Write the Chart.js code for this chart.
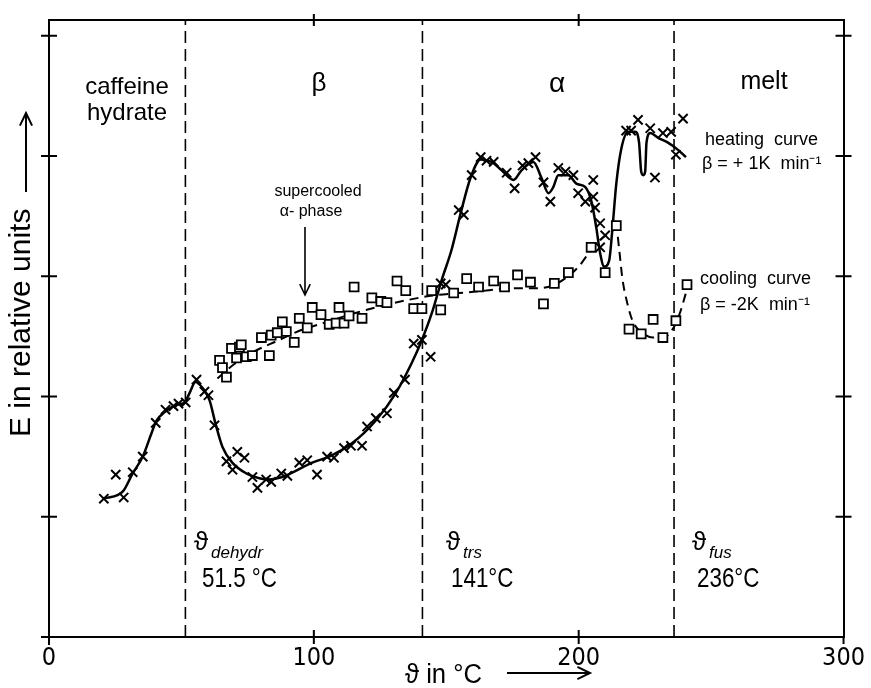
<!DOCTYPE html>
<html>
<head>
<meta charset="utf-8">
<script src="https://cdn.jsdelivr.net/npm/chart.js@4"></script>
<style>
  html, body { margin: 0; padding: 0; background: #fff; }
</style>
</head>
<body>
<canvas id="chart" width="871" height="688"></canvas>
<script>
// heating run, beta = +1 K/min (crosses)
const heatX = [20.7, 25.2, 28.2, 31.6, 35.4, 40.3, 44.0, 47.0, 48.9, 51.6, 55.7, 58.7, 60.2, 62.5, 67.0, 69.3, 71.1, 73.8, 76.8, 78.7,
  82.0, 83.9, 87.7, 90.0, 94.5, 97.5, 101.2, 105.0, 107.6, 111.4, 114.0, 118.2, 120.1, 123.4, 127.6, 130.2, 134.4, 137.7, 140.8, 144.1,
  147.9, 149.8, 154.7, 156.6, 159.6, 163.0, 165.2, 167.9, 172.8, 175.8, 178.8, 181.0, 183.7, 186.7, 189.3, 192.3, 195.0, 198.0, 199.8, 202.5,
  205.5, 205.5, 206.2, 208.1, 210.0, 208.1, 217.9, 219.8, 222.4, 227.0, 228.8, 231.8, 234.9, 236.7, 239.4];
const heatY = [1.15, 1.35, 1.16, 1.37, 1.50, 1.78, 1.89, 1.92, 1.94, 1.95, 2.14, 2.04, 2.01, 1.76, 1.46, 1.39, 1.54, 1.49, 1.33, 1.24,
  1.31, 1.29, 1.36, 1.34, 1.45, 1.47, 1.35, 1.50, 1.49, 1.57, 1.59, 1.59, 1.75, 1.82, 1.86, 2.03, 2.14, 2.44, 2.47, 2.33,
  2.94, 2.93, 3.55, 3.51, 3.84, 3.99, 3.96, 3.95, 3.86, 3.73, 3.92, 3.94, 3.99, 3.78, 3.62, 3.90, 3.87, 3.84, 3.69, 3.62,
  3.80, 3.66, 3.57, 3.44, 3.34, 3.24, 4.21, 4.21, 4.30, 4.23, 3.82, 4.19, 4.20, 4.01, 4.31];

// hand drawn curve through the heating run
const heatCurveX = [20.7, 27.9, 31.6, 35.4, 38.8, 40.6, 43.7, 48.2, 51.2, 53.1, 55.3, 58, 60.6, 62.8, 65.5, 69.2, 74.5, 79.4, 83.2, 88.1,
  93, 99.4, 105.8, 114.4, 123.4, 131, 137, 140.8, 144.5, 148.3, 152, 155.4, 159.2, 163, 167.1, 170.9, 175.4, 178.4, 182.9, 185.9,
  188.6, 190.4, 192.3, 196.1, 199.1, 202.5, 204.7, 206.6, 208.1, 209.6, 211.5, 212.6, 214.2, 216, 218.7, 221.3, 222.8, 223.6, 224.4, 225.1,
  225.6, 227, 230, 233.7, 237.5, 240.5];
const heatCurveY = [1.15, 1.21, 1.36, 1.50, 1.70, 1.80, 1.87, 1.93, 1.95, 2.03, 2.12, 2.07, 1.97, 1.78, 1.58, 1.45, 1.36, 1.32, 1.31, 1.33,
  1.38, 1.45, 1.50, 1.61, 1.80, 2.03, 2.28, 2.47, 2.69, 2.97, 3.22, 3.52, 3.82, 3.97, 3.95, 3.88, 3.80, 3.88, 3.95, 3.82,
  3.69, 3.74, 3.84, 3.84, 3.77, 3.74, 3.63, 3.41, 3.19, 3.08, 3.13, 3.36, 3.77, 4.05, 4.20, 4.20, 4.11, 3.87, 3.84, 3.87,
  4.11, 4.19, 4.15, 4.11, 4.05, 3.99];

// cooling run, beta = -2 K/min (squares)
const coolX = [64.4, 65.5, 67.0, 68.9, 70.8, 71.9, 72.6, 74.5, 76.8, 80.2, 83.2, 83.9, 86.2, 88.1, 89.6, 92.6, 94.5, 97.5, 99.4, 102.7,
  105.8, 108.4, 109.5, 111.4, 113.3, 115.2, 118.2, 121.9, 125.3, 127.6, 131.4, 134.7, 137.7, 140.8, 144.5, 147.9, 152.8, 157.7, 162.2, 167.9,
  172.0, 176.9, 181.8, 186.7, 190.8, 196.1, 204.7, 210.0, 214.2, 219.0, 223.6, 228.1, 231.8, 236.7, 240.9];
const coolY = [2.30, 2.24, 2.16, 2.40, 2.32, 2.41, 2.43, 2.33, 2.34, 2.49, 2.34, 2.51, 2.53, 2.62, 2.54, 2.45, 2.65, 2.57, 2.74, 2.68,
  2.60, 2.61, 2.74, 2.61, 2.67, 2.91, 2.65, 2.82, 2.79, 2.78, 2.96, 2.88, 2.73, 2.73, 2.88, 2.72, 2.86, 2.98, 2.91, 2.96,
  2.91, 3.01, 2.95, 2.77, 2.94, 3.03, 3.24, 3.03, 3.42, 2.56, 2.52, 2.64, 2.49, 2.63, 2.93];

// dashed curve through the cooling run
const coolCurveX = [63.6, 70, 78, 86, 95, 105, 115, 125, 135, 145, 155, 165, 175, 185, 191, 196, 200, 204.7, 208.5, 212.3,
  214.2, 215.3, 216.5, 218.3, 220.5, 224, 228, 232, 235.5, 238, 241];
const coolCurveY = [2.15, 2.27, 2.38, 2.46, 2.55, 2.62, 2.69, 2.75, 2.80, 2.84, 2.86, 2.88, 2.90, 2.90, 2.93, 3.00, 3.08, 3.22, 3.31, 3.37,
  3.40, 3.22, 2.98, 2.78, 2.62, 2.53, 2.49, 2.49, 2.56, 2.68, 2.90];

// transition temperatures (dashed verticals)
const transitions = [51.5, 141, 236];
const xTicks = [0, 100, 200, 300];
const yTicks = [1, 2, 3, 4, 5];
const Y_MAX = 5.13;

const SANS = "'Liberation Sans', Arial, sans-serif";
const COND = "'DejaVu Sans Condensed', 'Liberation Sans', sans-serif";

const pts = (xs, ys) => xs.map((x, i) => ({ x: x, y: ys[i] }));

const datasets = [
  {
    data: pts(heatX, heatY),
    pointStyle: 'crossRot', pointRadius: 6.5, borderWidth: 2,
    borderColor: '#000', backgroundColor: '#000', showLine: false
  },
  {
    data: pts(coolX, coolY),
    pointStyle: 'rect', pointRadius: 6.3, borderWidth: 1.8,
    borderColor: '#000', backgroundColor: '#fff', showLine: false
  },
  {
    data: pts(heatCurveX, heatCurveY),
    showLine: true, pointRadius: 0, borderColor: '#000', borderWidth: 2.5,
    cubicInterpolationMode: 'monotone'
  },
  {
    data: pts(coolCurveX, coolCurveY),
    showLine: true, pointRadius: 0, borderColor: '#000', borderWidth: 2,
    borderDash: [9, 6], cubicInterpolationMode: 'monotone'
  }
];
transitions.forEach(t => {
  datasets.push({
    data: [{ x: t, y: 0 }, { x: t, y: Y_MAX }],
    showLine: true, pointRadius: 0, borderColor: '#000', borderWidth: 1.6,
    borderDash: [12, 6]
  });
});

// sx < 1 squeezes the text sideways (the lettering in the figure is narrow)
function text(ctx, str, x, y, font, align, sx) {
  ctx.save();
  ctx.translate(x, y);
  if (sx) ctx.scale(sx, 1);
  ctx.font = font;
  ctx.textAlign = align || 'center';
  ctx.textBaseline = 'middle';
  ctx.fillText(str, 0, 0);
  ctx.restore();
}

function arrow(ctx, x1, y1, x2, y2, head) {
  const a = Math.atan2(y2 - y1, x2 - x1);
  ctx.beginPath();
  ctx.moveTo(x1, y1);
  ctx.lineTo(x2, y2);
  ctx.moveTo(x2 - head * Math.cos(a - 0.45), y2 - head * Math.sin(a - 0.45));
  ctx.lineTo(x2, y2);
  ctx.lineTo(x2 - head * Math.cos(a + 0.45), y2 - head * Math.sin(a + 0.45));
  ctx.stroke();
}

const paperPlugin = {
  id: 'paper',
  afterDraw(chart) {
    const ctx = chart.ctx;
    const { left, right, top, bottom } = chart.chartArea;
    const sx = chart.scales.x, sy = chart.scales.y;
    ctx.save();
    ctx.strokeStyle = '#000';
    ctx.fillStyle = '#000';
    ctx.lineWidth = 2;

    // crossing tick marks
    ctx.beginPath();
    yTicks.forEach(v => {
      const py = sy.getPixelForValue(v);
      ctx.moveTo(left - 8, py); ctx.lineTo(left + 8, py);
      ctx.moveTo(right - 8, py); ctx.lineTo(right + 8, py);
    });
    xTicks.slice(1, 3).forEach(v => {
      const px = sx.getPixelForValue(v);
      ctx.moveTo(px, bottom - 7); ctx.lineTo(px, bottom + 7);
      ctx.moveTo(px, top - 6); ctx.lineTo(px, top + 6);
    });
    ctx.moveTo(left - 8, bottom); ctx.lineTo(left, bottom); ctx.lineTo(left, bottom + 8);
    ctx.moveTo(right, bottom); ctx.lineTo(right, bottom + 7);
    ctx.stroke();

    // phase labels
    text(ctx, 'caffeine', 127, 87, '24px ' + SANS);
    text(ctx, 'hydrate', 127, 113, '24px ' + SANS);
    text(ctx, 'β', 319, 84, '26px ' + SANS);
    text(ctx, 'α', 557, 84, '28px ' + SANS);
    text(ctx, 'melt', 764, 82, '25px ' + SANS);

    // curve labels
    text(ctx, 'heating  curve', 705, 140, '18px ' + SANS, 'left');
    text(ctx, 'β = + 1K  min⁻¹', 702, 164, '18px ' + SANS, 'left');
    text(ctx, 'cooling  curve', 700, 279, '18px ' + SANS, 'left');
    text(ctx, 'β = -2K  min⁻¹', 700, 305, '18px ' + SANS, 'left');

    text(ctx, 'supercooled', 318, 192, '16px ' + SANS);
    text(ctx, 'α- phase', 311, 212, '16px ' + SANS);
    ctx.lineWidth = 1.6;
    arrow(ctx, 305, 227, 305, 295, 12);

    // transition temperatures
    const th = [
      { x: 194, sub: 'dehydr', val: '51.5 °C', vx: 202 },
      { x: 446, sub: 'trs', val: '141°C', vx: 451 },
      { x: 692, sub: 'fus', val: '236°C', vx: 697 }
    ];
    th.forEach(t => {
      text(ctx, 'ϑ', t.x, 543, '26px ' + SANS, 'left');
      text(ctx, t.sub, t.x + 17, 553, 'italic 17px ' + SANS, 'left');
      text(ctx, t.val, t.vx, 579, '28px ' + SANS, 'left', 0.8);
    });

    // axis titles
    ctx.lineWidth = 2;
    text(ctx, 'ϑ in °C', 405, 676, '27px ' + SANS, 'left', 0.95);
    arrow(ctx, 507, 673, 590, 673, 14);

    ctx.save();
    ctx.translate(22, 437);
    ctx.rotate(-Math.PI / 2);
    text(ctx, 'E in relative units', 0, 0, '30px ' + SANS, 'left');
    ctx.restore();
    arrow(ctx, 26, 192, 26, 113, 14);

    ctx.restore();
  }
};

const frame = { display: true, color: '#000', width: 2 };
const noGrid = { display: false, drawTicks: false };

new Chart(document.getElementById('chart'), {
  type: 'scatter',
  data: { datasets: datasets },
  options: {
    responsive: false,
    animation: false,
    layout: { padding: 0 },
    plugins: { legend: { display: false }, tooltip: { enabled: false } },
    scales: {
      x: {
        type: 'linear', position: 'bottom', min: 0, max: 300,
        afterFit(s) { s.height = 51; },
        afterBuildTicks(s) { s.ticks = xTicks.map(v => ({ value: v })); },
        grid: noGrid, border: frame,
        ticks: { color: '#000', font: { family: COND, size: 25 }, padding: 6, maxRotation: 0, autoSkip: false }
      },
      x2: {
        type: 'linear', position: 'top', min: 0, max: 300, display: true,
        afterFit(s) { s.height = 20; },
        grid: noGrid, border: frame, ticks: { display: false }
      },
      y: {
        type: 'linear', position: 'left', min: 0, max: Y_MAX,
        afterFit(s) { s.width = 49; },
        grid: noGrid, border: frame, ticks: { display: false }
      },
      y2: {
        type: 'linear', position: 'right', min: 0, max: Y_MAX, display: true,
        afterFit(s) { s.width = 25; },
        grid: noGrid, border: frame, ticks: { display: false }
      }
    }
  },
  plugins: [paperPlugin]
});
</script>
</body>
</html>
